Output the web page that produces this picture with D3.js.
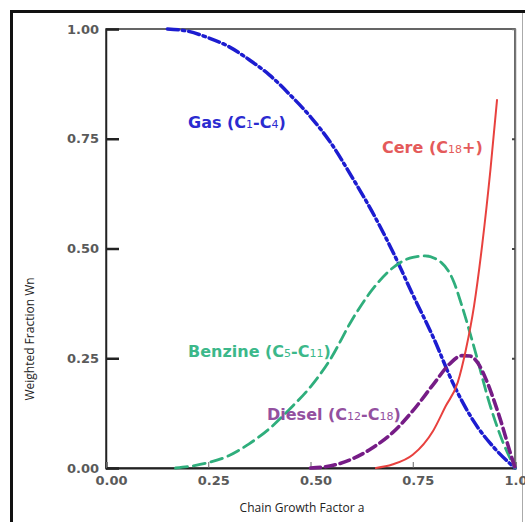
<!DOCTYPE html>
<html>
<head>
<meta charset="utf-8">
<script src="https://cdn.jsdelivr.net/npm/d3@7"></script>
<style>
    body { margin: 0; background: #fff; }
    svg { display: block; }
</style>
</head>
<body>
<div id="chart"></div>
<script>
"use strict";

// values (a = chain growth factor, w = weighted fraction)
const gasA = [0.15, 0.2, 0.25, 0.3, 0.35, 0.4, 0.45, 0.5, 0.55, 0.6, 0.65, 0.7, 0.75, 0.8, 0.85, 0.9, 0.95, 1.0];
const gasW = [1.0, 0.995, 0.98, 0.96, 0.93, 0.895, 0.85, 0.8, 0.74, 0.665, 0.585, 0.495, 0.395, 0.298, 0.19, 0.105, 0.045, 0];

const benzineA = [0.17, 0.23, 0.3, 0.35, 0.4, 0.45, 0.5, 0.55, 0.6, 0.65, 0.7, 0.75, 0.78, 0.82, 0.85, 0.87, 0.9, 0.94, 0.97, 1.0];
const benzineW = [0, 0.008, 0.028, 0.055, 0.09, 0.135, 0.185, 0.25, 0.335, 0.405, 0.455, 0.48, 0.483, 0.468, 0.425, 0.37, 0.275, 0.14, 0.06, 0];

const dieselA = [0.5, 0.55, 0.6, 0.65, 0.7, 0.75, 0.8, 0.84, 0.87, 0.89, 0.91, 0.93, 0.95, 0.97, 0.985, 1.0];
const dieselW = [0, 0.005, 0.02, 0.045, 0.08, 0.13, 0.19, 0.237, 0.256, 0.255, 0.238, 0.2, 0.15, 0.093, 0.045, 0];

const cereA = [0.66, 0.7, 0.75, 0.8, 0.83, 0.86, 0.88, 0.9, 0.92, 0.94, 0.956];
const cereW = [0, 0.008, 0.03, 0.085, 0.14, 0.195, 0.27, 0.37, 0.51, 0.68, 0.838];

const tickValues = [0, 0.25, 0.5, 0.75, 1];
const xTickLabels = ["0.00", "0.25", "0.50", "0.75", "1.00"];
const yTickLabels = ["0.00", "0.25", "0.50", "0.75", "1.00"];

const width = 525;
const height = 522;

const svg = d3.select("#chart")
    .append("svg")
    .attr("width", width)
    .attr("height", height);

// outer frame: heavy left and top, faint right
svg.append("path")
    .attr("d", "M11.5,530V11.5H525")
    .attr("fill", "none")
    .attr("stroke", "#111")
    .attr("stroke-width", 3);
svg.append("line")
    .attr("x1", 522.5).attr("x2", 522.5)
    .attr("y1", 13).attr("y2", 522)
    .attr("stroke", "#aaa")
    .attr("stroke-width", 1);

const x = d3.scaleLinear().domain([0, 1]).range([106, 515]);
const y = d3.scaleLinear().domain([0, 1]).range([468, 29]);

// plot box
svg.append("rect")
    .attr("x", x(0))
    .attr("y", y(1))
    .attr("width", x(1) - x(0))
    .attr("height", y(0) - y(1))
    .attr("fill", "none")
    .attr("stroke", "#333")
    .attr("stroke-width", 1.5);

// y axis
const yAxis = d3.axisLeft(y)
    .tickValues(tickValues)
    .tickSize(-13)
    .tickPadding(7)
    .tickFormat((d, i) => yTickLabels[i]);

const gy = svg.append("g")
    .attr("transform", `translate(${x(0)},0)`)
    .call(yAxis);
gy.select(".domain").attr("stroke", "#222").attr("stroke-width", 1.5);
gy.selectAll(".tick line").attr("stroke", "#222").attr("stroke-width", 2.5);
gy.selectAll(".tick text")
    .attr("font-family", "DejaVu Sans")
    .attr("font-weight", "bold")
    .attr("font-size", 13)
    .attr("fill", "#5a5a5a");

// right side small ticks
const gr = svg.append("g")
    .attr("transform", `translate(${x(1)},0)`)
    .call(d3.axisRight(y).tickValues([0.25, 0.5, 0.75]).tickSize(-3).tickFormat(""));
gr.select(".domain").attr("stroke", "#777").attr("stroke-width", 1.5);
gr.selectAll(".tick line").attr("stroke", "#444").attr("stroke-width", 2);

// x axis
const xAxis = d3.axisBottom(x)
    .tickValues(tickValues)
    .tickSize(-6)
    .tickPadding(8)
    .tickFormat((d, i) => xTickLabels[i]);

const gx = svg.append("g")
    .attr("transform", `translate(0,${y(0)})`)
    .call(xAxis);
gx.select(".domain").attr("stroke", "#222").attr("stroke-width", 2);
gx.selectAll(".tick line").attr("stroke", "#666").attr("stroke-width", 1);
gx.selectAll(".tick text")
    .attr("dx", 5)
    .attr("font-family", "DejaVu Sans")
    .attr("font-weight", "bold")
    .attr("font-size", 13)
    .attr("fill", "#5a5a5a");

// axis titles
svg.append("text")
    .attr("x", 302)
    .attr("y", 512)
    .attr("text-anchor", "middle")
    .attr("font-family", "Open Sans")
    .attr("font-size", 12)
    .attr("fill", "#222")
    .text("Chain Growth Factor a");

svg.append("text")
    .attr("transform", "translate(34,339) rotate(-90)")
    .attr("text-anchor", "middle")
    .attr("font-family", "Open Sans")
    .attr("font-size", 12)
    .attr("fill", "#222")
    .text("Weighted Fraction Wn");

// curves
const line = d3.line()
    .x(d => x(d[0]))
    .y(d => y(d[1]))
    .curve(d3.curveMonotoneX);

const series = [
    { a: gasA, w: gasW, color: "#1c1cd0", width: 3.5, dash: "11,4,2.5,4" },
    { a: benzineA, w: benzineW, color: "#2fae7c", width: 2.8, dash: "12,6" },
    { a: dieselA, w: dieselW, color: "#761c86", width: 3.6, dash: "10,5" },
    { a: cereA, w: cereW, color: "#e8413e", width: 2, dash: null },
];

series.forEach(s => {
    svg.append("path")
        .datum(s.a.map((v, i) => [v, s.w[i]]))
        .attr("d", line)
        .attr("fill", "none")
        .attr("stroke", s.color)
        .attr("stroke-width", s.width)
        .attr("stroke-dasharray", s.dash)
        .attr("stroke-linecap", "round");
});

// curve labels built from text parts, subscripts smaller
function addLabel(px, py, color, parts) {
    const t = svg.append("text")
        .attr("x", px)
        .attr("y", py)
        .attr("font-family", "DejaVu Sans")
        .attr("font-weight", "bold")
        .attr("font-size", 16)
        .attr("fill", color);
    parts.forEach(p => {
        const ts = t.append("tspan").text(p.t);
        if (p.sub) ts.attr("font-size", 11).attr("font-weight", "normal");
    });
}

addLabel(188, 128, "#2b2bd0", [
    { t: "Gas (C" }, { t: "1", sub: true }, { t: "-C" }, { t: "4", sub: true }, { t: ")" }
]);
addLabel(382, 153, "#e45a5a", [
    { t: "Cere (C" }, { t: "18", sub: true }, { t: "+)" }
]);
addLabel(188, 357, "#3cb88a", [
    { t: "Benzine (C" }, { t: "5", sub: true }, { t: "-C" }, { t: "11", sub: true }, { t: ")" }
]);
addLabel(267, 420, "#93509f", [
    { t: "Diesel (C" }, { t: "12", sub: true }, { t: "-C" }, { t: "18", sub: true }, { t: ")" }
]);
</script>
</body>
</html>
